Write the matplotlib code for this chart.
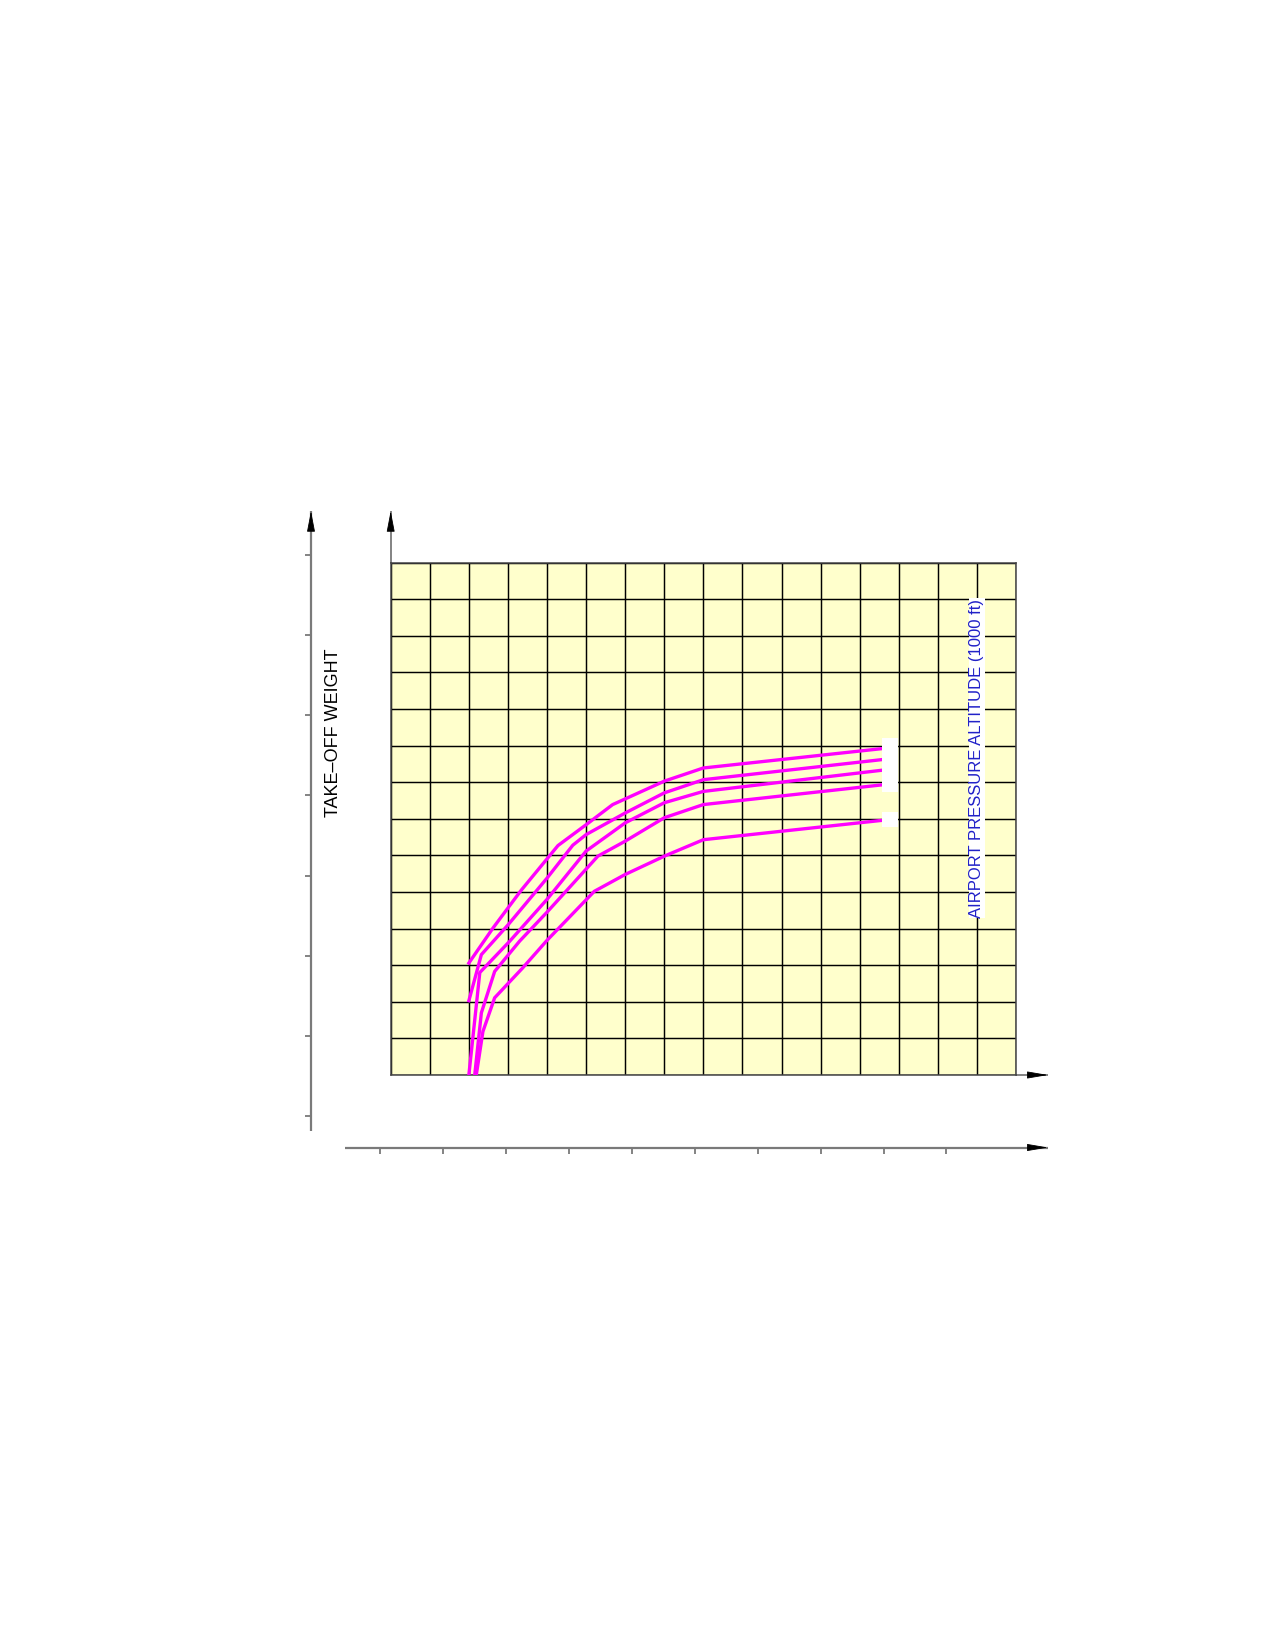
import numpy as np
import matplotlib
matplotlib.use("Agg")
import matplotlib.pyplot as plt
from matplotlib.patches import Rectangle

plt.rcParams['font.family'] = ['Liberation Sans', 'DejaVu Sans']

# chart values in grid units (16 x 14 squares)
curve_1_x = [2.0, 2.62, 3.34, 4.28, 5.0, 5.68, 7.0, 8.0, 12.58]
curve_1_y = [3.06, 4.02, 5.05, 6.27, 6.84, 7.39, 8.03, 8.39, 8.92]
curve_2_x = [2.0, 2.32, 3.0, 4.0, 4.66, 5.0, 6.0, 7.0, 8.0, 12.58]
curve_2_y = [2.03, 3.29, 4.10, 5.38, 6.28, 6.57, 7.16, 7.71, 8.07, 8.62]
curve_3_x = [2.0, 2.28, 3.04, 4.0, 5.0, 6.0, 7.0, 8.0, 12.58]
curve_3_y = [0.0, 2.80, 3.65, 4.80, 6.12, 6.89, 7.44, 7.75, 8.33]
curve_4_x = [2.15, 2.32, 2.66, 3.30, 4.0, 5.30, 6.0, 7.0, 8.0, 12.58]
curve_4_y = [0.0, 1.70, 2.83, 3.66, 4.45, 5.98, 6.39, 7.03, 7.39, 7.93]
curve_5_x = [2.19, 2.36, 2.66, 3.38, 4.0, 5.21, 6.0, 7.0, 8.0, 12.58]
curve_5_y = [0.0, 1.19, 2.11, 2.93, 3.68, 5.02, 5.48, 5.98, 6.43, 6.96]

n_cols = 16
n_rows = 14
weight_ticks = list(range(8))
bottom_ticks = list(range(10))

y_label = "TAKE–OFF WEIGHT"
alt_label = "AIRPORT PRESSURE ALTITUDE (1000 ft)"

W, H = 1275, 1645
fig = plt.figure(figsize=(W / 100, H / 100), dpi=100)

def px_box(x0, y0, x1, y1):
    # pixel box (top-left origin) -> figure fraction rect
    return [x0 / W, 1 - y1 / H, (x1 - x0) / W, (y1 - y0) / H]

gray = '#7a7a7a'

def arrow(a, start, end, hw=0.25, lw=1.6):
    # gray shaft, black head
    a.plot([start[0], end[0]], [start[1], end[1]], transform=a.transAxes,
           color=gray, lw=lw, clip_on=False, solid_capstyle='butt')
    hl = 13.0
    off = (-hl, 0) if end[0] != start[0] else (0, -hl)
    a.annotate('', xy=end, xycoords='axes fraction', xytext=off,
               textcoords='offset points',
               arrowprops=dict(arrowstyle='-|>,head_length=1.3,head_width=%s' % hw,
                               color='black', lw=0.6, shrinkA=0, shrinkB=0))

# outer take-off weight axis
ax_w = fig.add_axes(px_box(311, 511, 321, 1131))
ax_w.set_ylim(-0.187, 7.549)
ax_w.set_yticks(weight_ticks)
ax_w.set_xticks([])
for s in ax_w.spines.values():
    s.set_visible(False)
ax_w.tick_params(axis='y', direction='out', length=4.5, width=1.3, color=gray,
                 labelleft=False)
ax_w.patch.set_alpha(0)
arrow(ax_w, (0, 0), (0, 1))
fig.text(333 / W, 1 - 733 / H, y_label, rotation=90, ha='center', va='center',
         fontsize=13, color='black')

# outer bottom axis
ax_b = fig.add_axes(px_box(345, 1137, 1048, 1147.5))
ax_b.set_xlim(-0.561, 10.615)
ax_b.set_xticks(bottom_ticks)
ax_b.set_yticks([])
for s in ax_b.spines.values():
    s.set_visible(False)
ax_b.tick_params(axis='x', direction='out', length=4.5, width=1.3, color=gray,
                 labelbottom=False)
ax_b.patch.set_alpha(0)
arrow(ax_b, (0, 0), (1, 0), hw=0.22)

# main grid chart
ax = fig.add_axes(px_box(390.7, 562.7, 1016, 1075))
ax.set_facecolor('#ffffcc')
ax.set_xlim(0, n_cols)
ax.set_ylim(0, n_rows)
ax.set_xticks(np.arange(0, n_cols + 1))
ax.set_yticks(np.arange(0, n_rows + 1))
ax.grid(True, color='black', lw=1.05, zorder=1)
ax.set_axisbelow(True)
ax.tick_params(which='major', length=0, labelbottom=False, labelleft=False)
ax.set_xticks(np.arange(2, 15, 2), minor=True)
ax.set_yticks(np.arange(1, 14), minor=True)
ax.tick_params(which='minor', direction='out', length=4.5, width=1.05, color='black')
for s in ax.spines.values():
    s.set_color('#444444')
    s.set_linewidth(1.1)

mag = '#ff00ff'
for xs, ys in [(curve_1_x, curve_1_y), (curve_2_x, curve_2_y), (curve_3_x, curve_3_y),
               (curve_4_x, curve_4_y), (curve_5_x, curve_5_y)]:
    ax.plot(xs, ys, color=mag, lw=2.4, zorder=3)

# blank label boxes at curve ends
ax.add_patch(Rectangle((12.58, 7.74), 0.40, 1.46, fc='white', ec='none', zorder=4))
ax.add_patch(Rectangle((12.58, 6.77), 0.40, 0.41, fc='white', ec='none', zorder=4))

ax.text(15.0, 8.66, alt_label, rotation=90, ha='center', va='center', fontsize=12,
        color='#2020c8', zorder=5,
        bbox=dict(boxstyle='square,pad=0.05', fc='white', ec='none'))

# axis arrows of the grid
arrow(ax, (0, 1), (0, 1.1009), lw=1.3)
arrow(ax, (1, 0), (1.0512, 0), hw=0.22, lw=1.3)

fig.savefig('out.png', dpi=100)
